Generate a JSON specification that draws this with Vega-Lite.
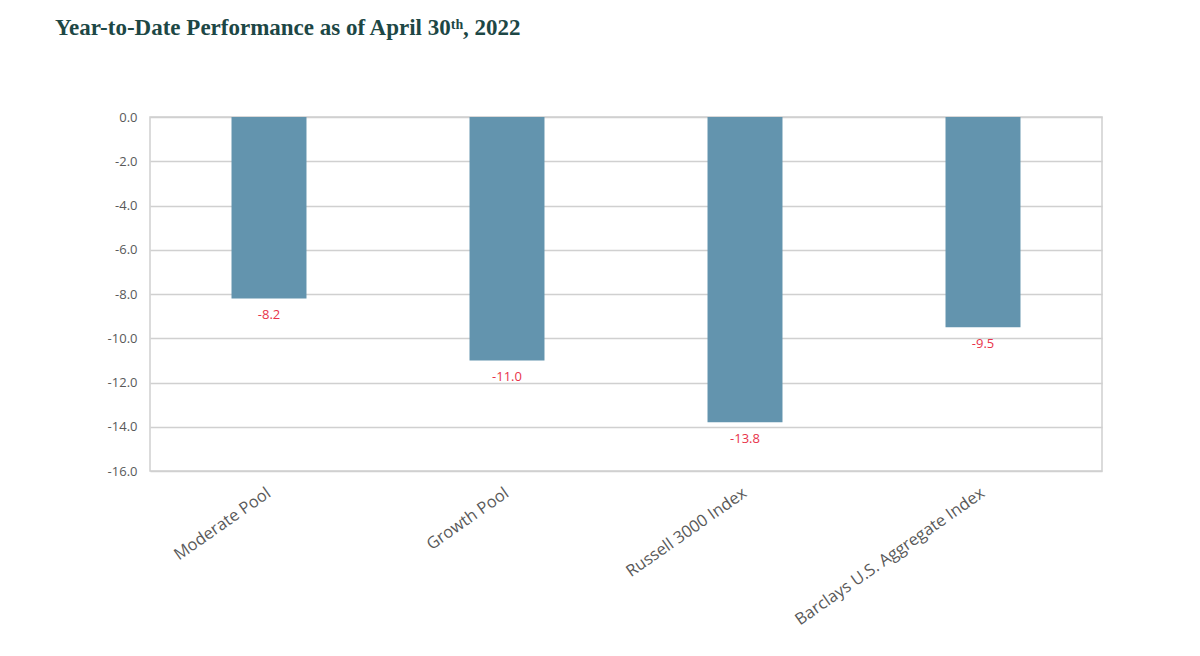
{
  "$schema": "https://vega.github.io/schema/vega-lite/v6.json",
  "width": 952,
  "height": 354,
  "autosize": {"type": "none"},
  "padding": {"left": 150, "top": 117, "right": 98, "bottom": 185},
  "background": "white",
  "title": {
    "text": "Year-to-Date Performance as of April 30ᵗʰ, 2022",
    "font": "Liberation Serif",
    "fontSize": 23,
    "fontWeight": "bold",
    "color": "#1d4745",
    "anchor": "start",
    "frame": "group",
    "dx": -95,
    "offset": 71
  },
  "data": {
    "values": [
      {"name": "Moderate Pool", "value": -8.2},
      {"name": "Growth Pool", "value": -11.0},
      {"name": "Russell 3000 Index", "value": -13.8},
      {"name": "Barclays U.S. Aggregate Index", "value": -9.5}
    ]
  },
  "encoding": {
    "x": {
      "field": "name",
      "type": "nominal",
      "sort": null,
      "scale": {"paddingInner": 0.685, "paddingOuter": 0.3425},
      "axis": {
        "title": null,
        "labelAngle": -35,
        "labelAlign": "right",
        "labelBaseline": "middle",
        "labelFont": "Open Sans",
        "labelFontSize": 16.5,
        "labelColor": "#595959",
        "labelPadding": 20,
        "ticks": false,
        "domain": false,
        "grid": false,
        "labelLimit": 400
      }
    },
    "y": {
      "field": "value",
      "type": "quantitative",
      "scale": {"domain": [-16, 0], "nice": false},
      "axis": {
        "title": null,
        "values": [0, -2, -4, -6, -8, -10, -12, -14, -16],
        "format": ".1f",
        "labelFont": "Open Sans",
        "labelFontSize": 13,
        "labelColor": "#595959",
        "labelPadding": 13,
        "ticks": false,
        "domain": false,
        "grid": true,
        "gridColor": "#d0d0d0",
        "gridWidth": 1.5
      }
    }
  },
  "layer": [
    {"mark": {"type": "bar", "color": "#6394ae"}},
    {
      "mark": {
        "type": "text",
        "baseline": "top",
        "dy": 11,
        "font": "Open Sans",
        "fontSize": 13,
        "color": "#e8334a"
      },
      "encoding": {
        "text": {"field": "value", "type": "quantitative", "format": ".1f"}
      }
    }
  ],
  "config": {
    "view": {"stroke": "#d0d0d0", "strokeWidth": 1.5},
    "locale": {
      "number": {
        "decimal": ".",
        "thousands": ",",
        "grouping": [3],
        "currency": ["$", ""],
        "minus": "-"
      }
    }
  }
}
